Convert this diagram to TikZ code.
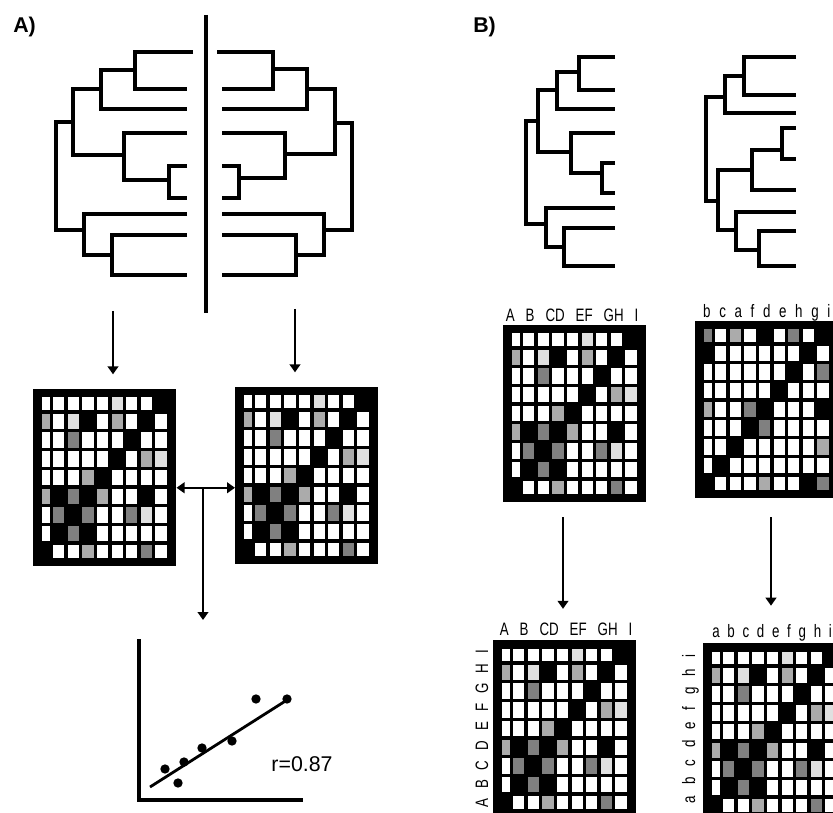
\documentclass[tikz,border=0pt]{standalone}
\usepackage{fontspec}
\setmainfont{Liberation Sans}
\newfontfamily\condfont{Liberation Sans}[FakeStretch=0.74]
\usepackage{xcolor}
\usetikzlibrary{positioning, arrows.meta}

\colorlet{cellc0}{white}
\colorlet{cellc1}{black!12}
\colorlet{cellc2}{black!33}
\colorlet{cellc3}{black!50}
\colorlet{cellc4}{black}

% letter labels: narrow 13.5pt with a fixed gap between words
\newcommand{\lblfont}[1]{\condfont\fontsize{13.5}{13.5}\selectfont\spaceskip=#1\relax}

% cell shades, top row first (0 white ... 4 black)
\newcommand{\basegrid}{{0,0,0,0,0,1,0,0,4},{2,0,1,4,0,2,0,4,0},{0,0,3,0,0,0,4,0,0},{0,0,0,0,0,4,0,2,1},{0,0,0,2,4,0,0,0,0},{2,4,3,4,2,0,0,4,0},{0,3,4,3,0,0,3,1,0},{0,4,3,4,0,0,0,0,0},{4,0,0,2,0,0,0,3,0}}
\newcommand{\swapgrid}{{3,0,2,0,4,0,3,0,4},{4,0,0,0,0,0,0,4,0},{0,0,0,0,0,0,4,0,3},{0,0,0,0,0,4,0,0,0},{2,0,0,3,4,0,0,0,4},{0,0,0,4,3,0,0,0,0},{0,0,4,0,0,0,0,0,2},{0,4,0,0,0,0,0,0,0},{4,0,0,0,2,0,0,4,3}}

\newcommand{\cellgrid}[2]{%
  \begin{scope}[shift={(#1.north west)}]
    \clip (9,9) rectangle (134,168);
    \foreach \gline [count=\gr from 0] in #2 {
      \foreach \gv [count=\gc from 0] in \gline {
        \fill[fill=cellc\gv] ({5.5+14.6*\gc},{6+18.7*\gr}) rectangle ++(11.3,15.4);
      }
    }
  \end{scope}}

\begin{document}
\begin{tikzpicture}[
    x=0.75pt, y=-0.75pt,
    treeline/.style={line width=2.4pt},
    arr/.style={-{Triangle[width=8pt, length=6pt]}, line width=1.6pt},
    dblarr/.style={{Triangle[width=8pt, length=6pt]}-{Triangle[width=8pt, length=6pt]}, line width=1.6pt},
    matbox/.style={fill=black, inner sep=0pt, minimum width=107.25pt, minimum height=132.75pt, anchor=north west},
    lbl/.style={font=\lblfont{8.2pt}, inner sep=0pt},
    panel/.style={font=\bfseries\fontsize{16}{16}\selectfont, inner sep=0pt, anchor=base west}
]
    \useasboundingbox (0,0) rectangle (833,813);
    \clip (0,0) rectangle (833,813);

    \node[panel] (panelA) at (13,33) {A)};
    \node[panel] (panelB) at (473,33) {B)};

    % A: two trees back to back
    \draw[treeline] (206,15) -- (206,313);
    \draw[treeline] (193,52) -- (135,52) -- (135,89) -- (187,89);
    \draw[treeline] (135,70) -- (101,70) -- (101,109) -- (187,109);
    \draw[treeline] (187,166) -- (169,166) -- (169,198) -- (187,198);
    \draw[treeline] (187,133) -- (124,133) -- (124,180) -- (169,180);
    \draw[treeline] (101,89) -- (73,89) -- (73,155) -- (124,155);
    \draw[treeline] (187,235) -- (112,235) -- (112,275) -- (187,275);
    \draw[treeline] (187,214) -- (84,214) -- (84,255) -- (112,255);
    \draw[treeline] (73,122) -- (56,122) -- (56,230) -- (84,230);

    \draw[treeline] (217,52) -- (273,52) -- (273,89) -- (222,89);
    \draw[treeline] (273,69) -- (307,69) -- (307,109) -- (222,109);
    \draw[treeline] (222,166) -- (239,166) -- (239,198) -- (222,198);
    \draw[treeline] (222,133) -- (285,133) -- (285,178) -- (239,178);
    \draw[treeline] (307,89) -- (335,89) -- (335,154) -- (285,154);
    \draw[treeline] (222,235) -- (296,235) -- (296,275) -- (222,275);
    \draw[treeline] (222,214) -- (324,214) -- (324,255) -- (296,255);
    \draw[treeline] (335,123) -- (352,123) -- (352,230) -- (324,230);

    % A: distance matrices
    \node[matbox] (matAL) at (33,389) {};
    \node[matbox] (matAR) at (235,387) {};
    \cellgrid{matAL}{\basegrid}
    \cellgrid{matAR}{\basegrid}

    \coordinate (treeAL) at (113,311);
    \coordinate (treeAR) at (295,309);
    \draw[arr, shorten >=11pt] (treeAL) -- (treeAL |- matAL.north);
    \draw[arr, shorten >=11pt] (treeAR) -- (treeAR |- matAR.north);

    \coordinate (cmpL) at ([yshift=-7.5pt]matAL.east);
    \draw[dblarr] (cmpL) -- (cmpL -| matAR.west);
    \coordinate (cmpM) at (203,488);
    \coordinate (plottop) at (203,620);
    \draw[arr] (cmpM) -- (plottop);

    % A: correlation plot
    \draw[treeline] (139,639) -- (139,800) -- (303,800);
    \foreach \px/\py in {165/769, 178/783, 184/762, 202/748, 232/741, 256/699, 287/699}
        \fill (\px,\py) circle (3.5pt);
    \draw[line width=2.1pt] (150,787) -- (287,700);
    \node[font=\fontsize{16}{16}\selectfont, inner sep=0pt] (rval) at (302,764) {r=0.87};

    % B: two trees
    \draw[treeline] (615,57) -- (579,57) -- (579,90) -- (615,90);
    \draw[treeline] (579,72) -- (557,72) -- (557,109) -- (615,109);
    \draw[treeline] (615,163) -- (602,163) -- (602,193) -- (615,193);
    \draw[treeline] (615,133) -- (571,133) -- (571,173) -- (602,173);
    \draw[treeline] (557,90) -- (538,90) -- (538,152) -- (571,152);
    \draw[treeline] (615,228) -- (564,228) -- (564,266) -- (615,266);
    \draw[treeline] (615,208) -- (546,208) -- (546,247) -- (564,247);
    \draw[treeline] (538,121) -- (526,121) -- (526,224) -- (546,224);

    \draw[treeline] (796,57) -- (744,57) -- (744,95) -- (796,95);
    \draw[treeline] (744,76) -- (725,76) -- (725,113) -- (796,113);
    \draw[treeline] (796,128) -- (782,128) -- (782,159) -- (796,159);
    \draw[treeline] (782,150) -- (752,150) -- (752,190) -- (796,190);
    \draw[treeline] (796,231) -- (759,231) -- (759,266) -- (796,266);
    \draw[treeline] (796,212) -- (736,212) -- (736,250) -- (759,250);
    \draw[treeline] (752,170) -- (718,170) -- (718,230) -- (736,230);
    \draw[treeline] (725,97) -- (706,97) -- (706,201) -- (718,201);

    % B: matrices before and after reordering
    \node[matbox] (matBTL) at (503,325) {};
    \node[matbox] (matBTR) at (695,321) {};
    \node[matbox] (matBBL) at (493,640) {};
    \node[matbox] (matBBR) at (703,643) {};
    \cellgrid{matBTL}{\basegrid}
    \cellgrid{matBTR}{\swapgrid}
    \cellgrid{matBBL}{\basegrid}
    \cellgrid{matBBR}{\basegrid}

    \node[lbl, anchor=base] (labBTL) at ([xshift=-2pt, yshift=2.5pt]matBTL.north) {A B CD EF GH I};
    \node[lbl, anchor=base, font=\lblfont{6.5pt}] (labBTR) at ([yshift=2.25pt]matBTR.north) {b c a f d e h g i};
    \node[lbl, anchor=base] (labBBL) at ([xshift=1pt, yshift=3.75pt]matBBL.north) {A B CD EF GH I};
    \node[lbl, anchor=base, font=\lblfont{5.8pt}] (labBBR) at ([xshift=-2pt, yshift=4.5pt]matBBR.north) {a b c d e f g h i};
    \node[lbl, rotate=90, anchor=base, font=\lblfont{7.5pt}] (rowBBL) at (488,729) {A B C D E F G H I};
    \node[lbl, rotate=90, anchor=base, font=\lblfont{8.6pt}] (rowBBR) at (695,729) {a b c d e f g h i};

    \coordinate (sortL) at (563,517);
    \coordinate (sortR) at (771,517);
    \draw[arr] (sortL) -- ([yshift=10pt]labBBL.north -| sortL);
    \draw[arr] (sortR) -- ([yshift=13.5pt]labBBR.north -| sortR);
\end{tikzpicture}
\end{document}
